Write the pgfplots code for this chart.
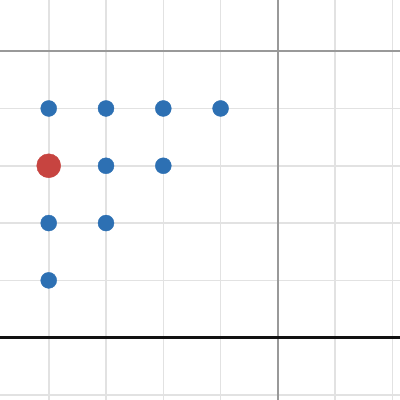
\documentclass[border=0pt]{standalone}
\usepackage{pgfplots}
\pgfplotsset{compat=1.18}
\definecolor{dblue}{HTML}{2D70B3}
\definecolor{dred}{HTML}{C74440}
\definecolor{minorgrid}{HTML}{E2E2E2}
\definecolor{majorgrid}{HTML}{999999}
\begin{document}
\begin{tikzpicture}
\begin{axis}[
    scale only axis,
    width=400bp, height=400bp,
    xmin=0.150, xmax=7.131,
    ymin=-1.088, ymax=5.893,
    xtick distance=1, ytick distance=1,
    xticklabels={}, yticklabels={},
    major tick length=0pt,
    grid=major,
    grid style={minorgrid, line width=1.6bp},
    extra x ticks={5}, extra y ticks={5},
    extra x tick labels={}, extra y tick labels={},
    extra tick style={grid style={majorgrid, line width=1.5bp}},
    axis line style={draw=none},
]
% x-axis
\addplot[color=black!93, line width=2.6bp, forget plot] coordinates {(-1,0) (8,0)};
% blue points
\addplot[only marks, mark=*, mark size=8bp, color=dblue] coordinates {
    (1,4) (2,4) (3,4) (4,4)
    (2,3) (3,3)
    (1,2) (2,2)
    (1,1)
};
% red point
\addplot[only marks, mark=*, mark size=12bp, color=dred] coordinates {(1,3)};
\end{axis}
\pgfresetboundingbox
\path (current axis.south west) rectangle (current axis.north east);
\end{tikzpicture}
\end{document}
